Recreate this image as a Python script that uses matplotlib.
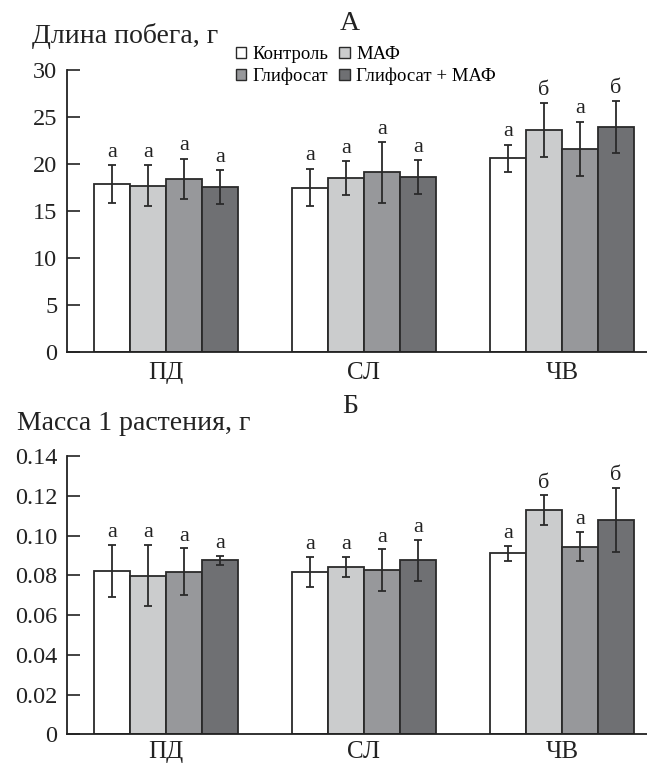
import matplotlib
matplotlib.use("Agg")
import matplotlib.pyplot as plt
import numpy as np
from matplotlib.patches import Patch

plt.rcParams['font.family'] = ['Liberation Serif', 'DejaVu Serif']

categories = ['ПД', 'СЛ', 'ЧВ']
series = ['Контроль', 'МАФ', 'Глифосат', 'Глифосат + МАФ']

length_vals = [[17.9, 17.5, 20.6],
               [17.7, 18.5, 23.6],
               [18.4, 19.1, 21.6],
               [17.55, 18.6, 23.95]]
length_err = [[2.0, 2.0, 1.45],
              [2.2, 1.8, 2.9],
              [2.15, 3.2, 2.9],
              [1.8, 1.8, 2.75]]
length_letters = [['а', 'а', 'а'],
                  ['а', 'а', 'б'],
                  ['а', 'а', 'а'],
                  ['а', 'а', 'б']]

mass_vals = [[0.0821, 0.0818, 0.0910],
             [0.0798, 0.0842, 0.1127],
             [0.0818, 0.0827, 0.0944],
             [0.0875, 0.0875, 0.1078]]
mass_err = [[0.0131, 0.0076, 0.0038],
            [0.0155, 0.0050, 0.0076],
            [0.0118, 0.0104, 0.0073],
            [0.0023, 0.0102, 0.0163]]
mass_letters = [['а', 'а', 'а'],
                ['а', 'а', 'б'],
                ['а', 'а', 'а'],
                ['а', 'а', 'б']]

length_ticks = [0, 5, 10, 15, 20, 25, 30]
length_ticklabels = ['0', '5', '10', '15', '20', '25', '30']
mass_ticks = [0, 0.02, 0.04, 0.06, 0.08, 0.10, 0.12, 0.14]
mass_ticklabels = ['0', '0.02', '0.04', '0.06', '0.08', '0.10', '0.12', '0.14']

colors = ['#ffffff', '#cbcccd', '#97989b', '#6f7073']
edge = '#2a2a2a'

W, H = 647, 764
fig = plt.figure(figsize=(W / 100, H / 100), dpi=100)

def px_axes(left, top, right, bottom):
    return fig.add_axes([left / W, 1 - bottom / H, (right - left) / W, (bottom - top) / H])

ax1 = px_axes(67, 70, 647, 352)
ax2 = px_axes(67, 456, 647, 734.3)

bw = 0.182
x = np.arange(len(categories))

def draw(ax, vals, errs, letters, ticks, ticklabels, ymax, off_pt, xpad):
    for i in range(len(series)):
        pos = x + (i - 1.5) * bw
        ax.bar(pos, vals[i], width=bw, color=colors[i], edgecolor=edge, linewidth=1.3, zorder=2)
        ax.errorbar(pos, vals[i], yerr=errs[i], fmt='none', ecolor='#2a2a2a',
                    elinewidth=1.3, capsize=3.2, capthick=1.3, zorder=3)
        for j in range(len(categories)):
            ax.annotate(letters[i][j], (pos[j], vals[i][j] + errs[i][j]),
                        xytext=(0, off_pt), textcoords='offset points',
                        ha='center', va='baseline', fontsize=16, color='#222222')
    ax.set_xlim(-0.5, 2.43)
    ax.set_ylim(0, ymax)
    ax.set_yticks(ticks)
    ax.set_yticklabels(ticklabels)
    ax.set_xticks(x)
    ax.set_xticklabels(categories)
    ax.spines['top'].set_visible(False)
    ax.spines['right'].set_visible(False)
    for s in ['left', 'bottom']:
        ax.spines[s].set_linewidth(1.3)
        ax.spines[s].set_color('#222222')
    ax.tick_params(axis='y', direction='in', length=9, width=1.2, pad=7,
                   labelsize=17.5, colors='#222222')
    ax.tick_params(axis='x', length=0, pad=xpad, labelsize=18, colors='#222222')

draw(ax1, length_vals, length_err, length_letters, length_ticks, length_ticklabels, 30, 6, 7)
draw(ax2, mass_vals, mass_err, mass_letters, mass_ticks, mass_ticklabels, 0.14, 5.5, 5)

fig.text(32 / W, 1 - 43 / H, 'Длина побега, г', fontsize=20, ha='left', va='baseline', color='#222222')
fig.text(350 / W, 1 - 30 / H, 'А', fontsize=20, ha='center', va='baseline', color='#222222')
fig.text(17 / W, 1 - 430 / H, 'Масса 1 растения, г', fontsize=20, ha='left', va='baseline', color='#222222')
fig.text(350 / W, 1 - 413 / H, 'Б', fontsize=20, ha='center', va='baseline', color='#222222')

handles = [Patch(facecolor=colors[i], edgecolor=edge, linewidth=1.0) for i in range(4)]
order = [0, 2, 1, 3]
fig.legend([handles[k] for k in order], [series[k] for k in order],
           loc='upper left', bbox_to_anchor=(236 / W, 1 - 46 / H), ncol=2,
           frameon=False, fontsize=13.5, handlelength=0.55, handleheight=0.55,
           handletextpad=0.35, columnspacing=0.55, labelspacing=0.25, borderpad=0,
           borderaxespad=0)

fig.savefig('out.png', dpi=100)
